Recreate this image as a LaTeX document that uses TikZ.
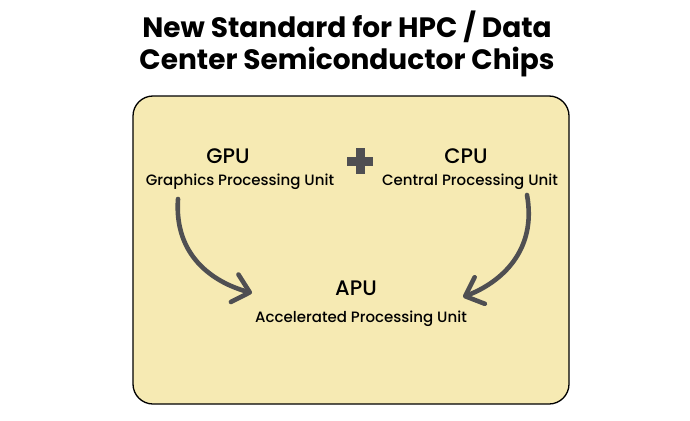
\documentclass[tikz,border=0pt]{standalone}
\usepackage{fontspec}
\setmainfont{Poppins}
\newfontfamily\medfont{Poppins Medium}
\usetikzlibrary{arrows.meta,positioning}
\definecolor{boxFill}{HTML}{F6EAB3}
\definecolor{arrGray}{HTML}{4F4F52}

\begin{document}
\begin{tikzpicture}[x=1pt,y=-1pt,
  >={Straight Barb[length=5.5mm,width=10mm,line cap=round,line join=round]},
  chip/.style={font=\fontsize{21}{23}\selectfont\medfont,inner sep=1pt},
  full/.style={font=\fontsize{15}{17}\selectfont\medfont,inner sep=1pt},
  flow/.style={->,draw=arrGray,line width=4.6pt,line cap=round}]
  \useasboundingbox (0,0) rectangle (690,420);
  % title
  \node[font=\fontsize{28}{32}\selectfont\bfseries,align=center] (title) at (347,44)
    {New Standard for HPC / Data\\Center Semiconductor Chips};
  % panel
  \draw[fill=boxFill,line width=1.3pt,rounded corners=20pt] (133,96) rectangle (569,404);
  \node[chip] (gpu) at (228,156) {GPU};
  \node[full] (gfull) at (240,182) {Graphics Processing Unit};
  \node[chip] (cpu) at (466,156) {CPU};
  \node[full] (cfull) at (470,182) {Central Processing Unit};
  \node[chip] (apu) at (356,288) {APU};
  \node[full] (afull) at (361,319) {Accelerated Processing Unit};
  % plus sign
  \fill[arrGray] (355.5,148) rectangle (364.5,174);
  \fill[arrGray] (347,156.5) rectangle (373,165.5);
  \coordinate (gtail) at (178,199);
  \coordinate (ghead) at (252,293);
  \coordinate (ctail) at (527,195);
  \coordinate (chead) at (463,297);
  \draw[flow] (gtail) .. controls (174,255) and (212,282) .. (ghead);
  \draw[flow] (ctail) .. controls (537,250) and (502,282) .. (chead);
\end{tikzpicture}
\end{document}
